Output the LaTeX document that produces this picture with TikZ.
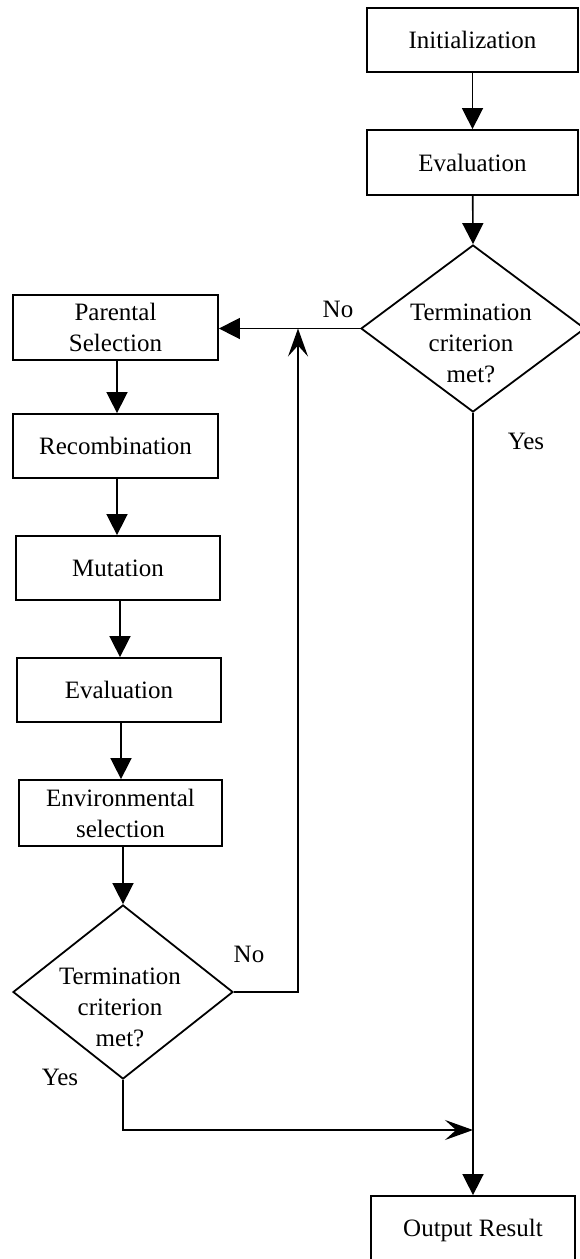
\documentclass[tikz,border=0pt]{standalone}
\usepackage{fontspec}
\setmainfont{Liberation Serif}
\usetikzlibrary{shapes.geometric,arrows.meta}
\begin{document}
\begin{tikzpicture}[x=1pt,y=-1pt,
  every node/.style={font=\fontsize{25}{31}\selectfont, inner sep=0pt},
  box/.style={draw, line width=1.8pt, rectangle, align=center},
  decision/.style={draw, line width=1.8pt, diamond, inner sep=0pt},
  dtext/.style={align=center},
  flow/.style={line width=1.6pt, -{Triangle[length=21pt,width=21pt]}},
  merge/.style={line width=1.6pt, -{Stealth[length=28pt,width=20pt,inset=11pt]}},
  tag/.style={anchor=center}]
\useasboundingbox (0,0) rectangle (579,1259);

% main column on the right
\node[box, minimum width=211pt, minimum height=64pt] (init) at (472.5,40) {Initialization};
\node[box, minimum width=211pt, minimum height=65pt] (evalA) at (472.5,162.5) {Evaluation};
\node[decision, minimum width=224pt, minimum height=167pt] (decA) at (473,328.5) {};
\node[dtext] (decAt) at (471,343) {Termination\\criterion\\met?};
\node[box, minimum width=204pt, minimum height=68pt] (out) at (473,1230) {Output Result};

% loop body on the left
\node[box, minimum width=205pt, minimum height=65pt] (par) at (115.5,327.5) {Parental\\Selection};
\node[box, minimum width=205pt, minimum height=64pt] (rec) at (115.5,446) {Recombination};
\node[box, minimum width=204pt, minimum height=64pt] (mut) at (118,568) {Mutation};
\node[box, minimum width=204pt, minimum height=64pt] (evalB) at (119,690) {Evaluation};
\node[box, minimum width=203pt, minimum height=66pt] (env) at (120.5,813) {Environmental\\selection};
\node[decision, minimum width=220pt, minimum height=174pt] (decB) at (123,992) {};
\node[dtext] (decBt) at (120,1007) {Termination\\criterion\\met?};

% branch labels
\node[tag] (noA) at (338,309) {No};
\node[tag] (yesA) at (526,441) {Yes};
\node[tag] (noB) at (249,954) {No};
\node[tag] (yesB) at (60,1077) {Yes};

% junction points
\coordinate (up) at (298,328.5);
\coordinate (join) at (473,1130);

% connectors
\draw[flow] (init) -- (evalA);
\draw[flow] (evalA) -- (decA.north);
\draw[flow] (decA.west) -- (decA.west -| par.east);
\draw[flow] (decA.south) -- (out.north);
\draw[flow] (par.south) ++(1.5,0) coordinate (p1) -- (p1 |- rec.north);
\draw[flow] (rec.south) ++(1.5,0) coordinate (r1) -- (r1 |- mut.north);
\draw[flow] (mut.south) ++(2,0) coordinate (m1) -- (m1 |- evalB.north);
\draw[flow] (evalB.south) ++(2,0) coordinate (e1) -- (e1 |- env.north);
\draw[flow] (env.south) ++(2.5,0) coordinate (v1) -- (decB.north);
\draw[merge] (decB.east) -| (up);
\draw[merge] (decB.south) |- (join);
\end{tikzpicture}
\end{document}
